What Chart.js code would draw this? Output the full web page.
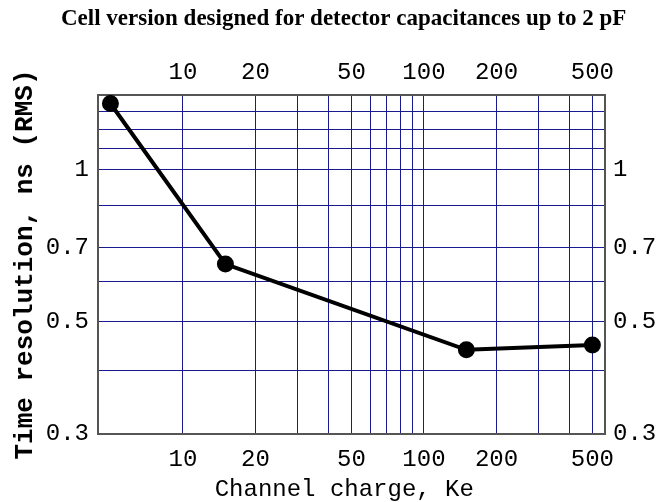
<!DOCTYPE html>
<html>
<head>
<meta charset="utf-8">
<script src="https://cdn.jsdelivr.net/npm/chart.js@4.4.0/dist/chart.umd.min.js"></script>
<style>
  body { margin: 0; background: #fff; }
</style>
</head>
<body>
<canvas id="chart" width="670" height="502"></canvas>
<script>
const charge = [5, 15, 150, 500];
const resolution = [1.35, 0.65, 0.44, 0.45];

const xTickLabels = [10, 20, 50, 100, 200, 500];
const yTickLabels = [0.3, 0.5, 0.7, 1];
const xGrid = [10, 20, 30, 40, 50, 60, 70, 80, 90, 100, 200, 300, 400, 500];
const yGrid = [0.3, 0.4, 0.5, 0.6, 0.7, 0.85, 1, 1.1, 1.2, 1.3];

const gridColor = '#1a1a90';
const frameColor = '#555';
const mono = "'Liberation Mono', 'Courier New', monospace";

const xRange = { min: 4.44, max: 564 };
const yRange = { min: 0.3, max: 1.403 };

function xTicks(scale) {
    scale.ticks = xGrid.map(v => ({ value: v }));
}
function yTicks(scale) {
    scale.ticks = yGrid.map(v => ({ value: v }));
}
const xLabel = v => xTickLabels.includes(v) ? String(v) : '';
const yLabel = v => yTickLabels.some(t => Math.abs(t - v) < 1e-9) ? String(v) : '';

new Chart(document.getElementById('chart'), {
    type: 'line',
    data: {
        datasets: [{
            data: charge.map((x, i) => ({ x: x, y: resolution[i] })),
            borderColor: '#000',
            backgroundColor: '#000',
            borderWidth: 4,
            pointRadius: 6.5,
            pointHoverRadius: 6.5,
            tension: 0
        }]
    },
    options: {
        responsive: false,
        animation: false,
        layout: { padding: 0 },
        plugins: {
            legend: { display: false },
            tooltip: { enabled: false },
            title: {
                display: true,
                text: '   Cell version designed for detector capacitances up to 2 pF',
                color: '#000',
                font: { family: "'Liberation Serif', 'Times New Roman', serif", size: 23, weight: 'bold' },
                padding: { top: 5, bottom: 9 }
            }
        },
        scales: {
            x: {
                type: 'logarithmic',
                position: 'bottom',
                min: xRange.min,
                max: xRange.max,
                afterBuildTicks: xTicks,
                afterFit: s => { s.height = 68; },
                ticks: {
                    autoSkip: false, maxRotation: 0, padding: 11,
                    color: '#000', font: { family: mono, size: 24 },
                    callback: xLabel
                },
                grid: { color: gridColor, lineWidth: 1, drawTicks: false },
                border: { color: frameColor, width: 2 },
                title: {
                    display: true,
                    text: 'Channel charge, Ke ',
                    color: '#000',
                    font: { family: mono, size: 24, lineHeight: 1 },
                    padding: { top: 0, bottom: 0 }
                }
            },
            x2: {
                type: 'logarithmic',
                position: 'top',
                min: xRange.min,
                max: xRange.max,
                afterBuildTicks: xTicks,
                afterFit: s => { s.height = 53.4; },
                ticks: {
                    autoSkip: false, maxRotation: 0, padding: 8,
                    color: '#000', font: { family: mono, size: 24 },
                    callback: xLabel
                },
                grid: { display: false, drawTicks: false },
                border: { color: frameColor, width: 2 }
            },
            y: {
                type: 'logarithmic',
                position: 'left',
                min: yRange.min,
                max: yRange.max,
                afterBuildTicks: yTicks,
                afterFit: s => { s.width = 98; },
                ticks: {
                    autoSkip: false, padding: 9,
                    color: '#000', font: { family: mono, size: 24 },
                    callback: yLabel
                },
                grid: { color: gridColor, lineWidth: 1, drawTicks: false },
                border: { color: frameColor, width: 2 },
                title: {
                    display: true,
                    text: 'Time resolution, ns (RMS)',
                    color: '#000',
                    font: { family: mono, size: 26, weight: 'bold', lineHeight: 1 },
                    padding: { top: 12, bottom: 0 }
                }
            },
            y2: {
                type: 'logarithmic',
                position: 'right',
                min: yRange.min,
                max: yRange.max,
                afterBuildTicks: yTicks,
                afterFit: s => { s.width = 65; },
                ticks: {
                    autoSkip: false, padding: 8,
                    color: '#000', font: { family: mono, size: 24 },
                    callback: yLabel
                },
                grid: { display: false, drawTicks: false },
                border: { color: frameColor, width: 2 }
            }
        }
    }
});
</script>
</body>
</html>
